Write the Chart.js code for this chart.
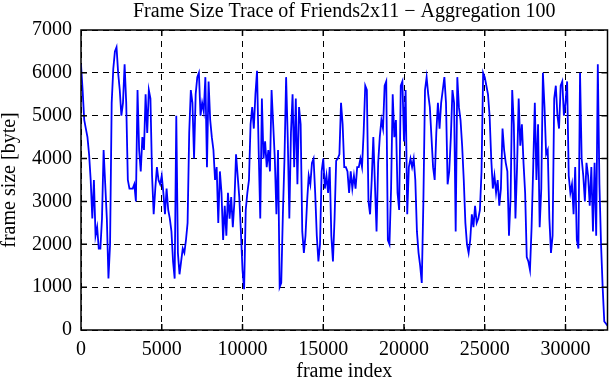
<!DOCTYPE html>
<html><head><meta charset="utf-8">
<script src="https://cdn.jsdelivr.net/npm/chart.js@4/dist/chart.umd.min.js"></script>
<style>html,body{margin:0;padding:0;background:#fff}#wrap{width:611px;height:380px}</style>
</head><body><div id="wrap"><canvas id="c" width="611" height="380"></canvas></div>
<script>
const chartTitle = "Frame Size Trace of Friends2x11 \u2212 Aggregation 100";
const xTitle = "frame index";
const yTitle = "frame size [byte]";
const aggregation = 100;
const xMax = 32600;
const xTicks = [0, 5000, 10000, 15000, 20000, 25000, 30000];
const yTicks = [0, 1000, 2000, 3000, 4000, 5000, 6000, 7000];
const frameSizes = [
6200,5600,4900,4700,4500,4100,3500,2600,3500,2200,2400,1900,1900,2600,4200,3400,2600,1200,2000,5300,
6100,6500,6600,6000,5600,5000,5300,6200,5300,3500,3300,3300,3300,3400,3000,5600,4200,3700,4500,4200,
5500,4600,5600,5400,3600,2700,3300,3800,3500,3400,3600,3200,2700,3300,2800,2600,2300,1600,1200,5000,
1800,1300,1600,1900,1800,2100,2500,4600,5600,5300,4000,5500,5900,6000,5000,5300,5100,5900,3800,5800,
4900,4500,4200,3500,3800,2500,3700,3200,2100,2900,2200,3200,2600,3100,2400,3000,4100,3600,3100,2300,
1400,950,2800,3200,3500,4800,5200,4700,5500,6050,4200,2600,5400,4000,4400,3800,4200,3700,5600,4800,
4000,2700,4200,1000,1100,2700,4000,5900,4500,2600,4600,5500,3800,5400,3400,5200,4800,2300,1800,2200,
3000,3600,3400,3900,4000,3200,2200,1600,2000,3700,4000,3300,3600,3200,3800,2200,1600,2600,3950,4000,
4100,5300,4800,3800,3800,3700,3200,3700,3300,3600,3300,3800,3800,4000,3800,4600,5700,5600,3000,2700,
3500,4500,3400,2300,3900,4500,4900,4700,5700,5800,2100,2000,3300,5500,4500,4900,3200,2800,5700,5800,
4400,5600,2700,3800,4000,3800,4000,3500,2300,1800,1500,1100,3000,5600,5900,5500,5200,4500,3800,3500,
4600,5300,4700,5300,5600,5900,5300,3400,3700,4500,5600,5300,2300,5900,5200,4900,4300,3500,2500,2000,
1800,2100,2700,2400,2900,2500,2600,2800,3700,6000,5900,5700,5500,5000,4000,3300,3600,3200,3500,2900,
3300,4700,4200,3900,3700,2200,3100,5600,4800,2600,3800,5400,4300,4800,3900,3200,1700,1600,1400,2400,
3800,5300,3500,4800,2400,3300,6000,5200,4100,4200,2600,1800,2200,5400,5700,5000,4700,5700,5800,5000,
5300,5800,3600,3200,3400,2700,3800,2100,1900,6000,4000,3600,3000,3900,3600,2900,3800,2300,3900,2200,
6200,3400,2000,1000,200,150,100
];

const points = frameSizes.map((v, i) => ({ x: i * aggregation, y: v }));
const serif = "'Liberation Serif', 'Times New Roman', serif";
const plain = v => String(v);

const framePlugin = {
  id: 'frame',
  afterDatasetsDraw(chart) {
    const { ctx, chartArea: a, scales: { x, y } } = chart;
    ctx.save();
    ctx.strokeStyle = '#000';
    ctx.lineWidth = 1.5;
    ctx.beginPath();
    xTicks.forEach(v => {
      const px = x.getPixelForValue(v);
      if (px <= a.left + 1) return;
      ctx.moveTo(px, a.bottom); ctx.lineTo(px, a.bottom - 6);
      ctx.moveTo(px, a.top); ctx.lineTo(px, a.top + 6);
    });
    yTicks.forEach(v => {
      const py = y.getPixelForValue(v);
      if (py >= a.bottom - 1 || py <= a.top + 1) return;
      ctx.moveTo(a.left, py); ctx.lineTo(a.left + 6, py);
      ctx.moveTo(a.right, py); ctx.lineTo(a.right - 6, py);
    });
    ctx.stroke();
    ctx.strokeRect(a.left, a.top, a.right - a.left, a.bottom - a.top);
    ctx.restore();
  }
};

new Chart(document.getElementById('c'), {
  type: 'line',
  data: {
    datasets: [{
      data: points,
      borderColor: '#0000ff',
      borderWidth: 1.8,
      pointRadius: 0,
      tension: 0,
      fill: false
    }]
  },
  options: {
    responsive: false,
    animation: false,
    devicePixelRatio: 1,
    layout: { padding: { left: 0, right: 3.5, top: 0, bottom: 0 } },
    plugins: {
      legend: { display: false },
      tooltip: { enabled: false },
      title: { display: false }
    },
    scales: {
      x: {
        type: 'linear',
        min: 0,
        max: xMax,
        afterFit(s) { s.height = 50; },
        afterBuildTicks(s) { s.ticks = xTicks.map(v => ({ value: v })); },
        grid: { color: '#000', lineWidth: 1, drawTicks: false },
        border: { display: false, dash: [6, 5] },
        ticks: { color: '#000', font: { family: serif, size: 20 }, padding: 8, maxRotation: 0, callback: plain },
        title: { display: true, text: xTitle, color: '#000', font: { family: serif, size: 20, lineHeight: 0.8 }, padding: { top: 0, bottom: 0 } }
      },
      x2: {
        type: 'linear',
        position: 'top',
        min: 0,
        max: xMax,
        afterFit(s) { s.height = 30; },
        grid: { display: false, drawTicks: false },
        border: { display: false },
        ticks: { display: false },
        title: { display: true, text: chartTitle, color: '#000', font: { family: serif, size: 20, lineHeight: 1.2 }, padding: { top: 0, bottom: 0 } }
      },
      y: {
        min: 0,
        max: 7000,
        afterFit(s) { s.width = 81; },
        afterBuildTicks(s) { s.ticks = yTicks.map(v => ({ value: v })); },
        grid: { color: '#000', lineWidth: 1, drawTicks: false },
        border: { display: false, dash: [6, 5] },
        ticks: { color: '#000', font: { family: serif, size: 20 }, padding: 9, callback: plain },
        title: { display: true, text: yTitle, color: '#000', font: { family: serif, size: 20, lineHeight: 1 }, padding: { top: 0, bottom: 0 } }
      }
    }
  },
  plugins: [framePlugin]
});
</script>
</body></html>
